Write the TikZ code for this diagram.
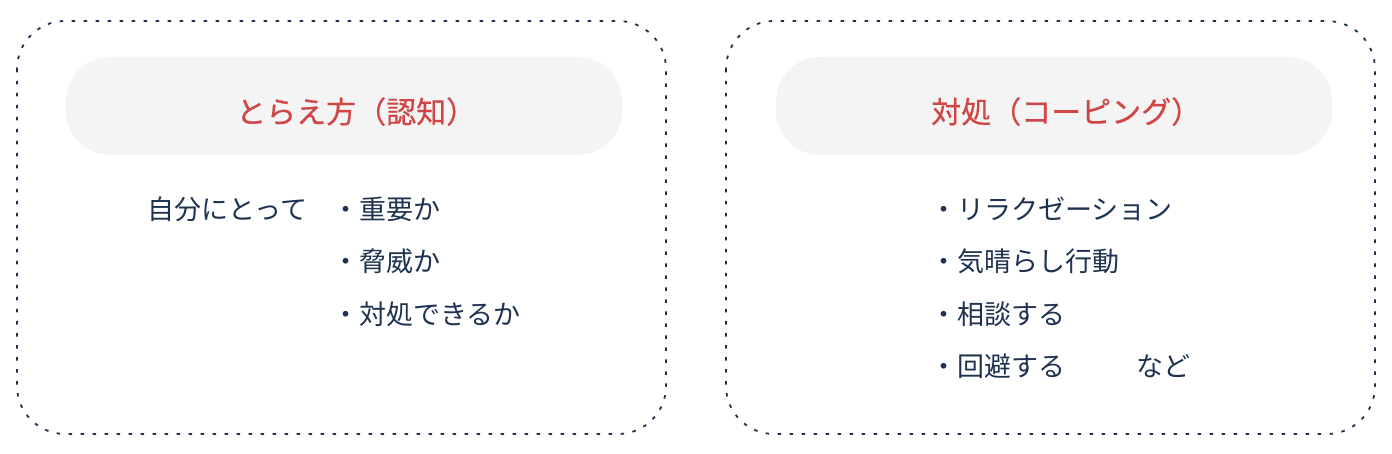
\documentclass[tikz,border=0pt]{standalone}
\usepackage{fontspec}
\setmainfont{Noto Sans CJK JP}
\newfontfamily\titlefont[FakeBold=0.5]{Noto Sans CJK JP}
\usetikzlibrary{positioning}

\definecolor{navy}{HTML}{1E3250}
\definecolor{titlered}{HTML}{D04545}
\definecolor{pillgray}{HTML}{F4F4F4}

\begin{document}
\begin{tikzpicture}[x=1pt, y=-1pt]

\tikzstyle{frame}=[draw=navy, line width=1.8pt, dash pattern=on 3.5pt off 8.5pt, rounded corners=48pt]
\tikzstyle{pill}=[fill=pillgray, rounded corners=44pt]
\tikzstyle{title}=[inner sep=0pt, anchor=base west, text=titlered, font=\titlefont\fontsize{30}{36}\selectfont]
\tikzstyle{item}=[inner sep=0pt, anchor=base west, text=navy, font=\fontsize{27}{32}\selectfont]

\useasboundingbox (0,0) rectangle (1392,454);

% outer boxes
\draw[frame] (17,21) rectangle (666,434);
\draw[frame] (726,21) rectangle (1375,434);

% headers
\fill[pill] (66,57) rectangle (622,155);
\fill[pill] (776,57) rectangle (1332,155);

\node[title] (cogT) at (236,123) {とらえ方（認知）};
\node[title] (copT) at (931,123) {対処（コーピング）};

% left box
\node[item] (forme) at (147,220) {自分にとって};
\node[item] (cog1) at (332,220) {・重要か};
\node[item] (cog2) at (332,272) {・脅威か};
\node[item] (cog3) at (332,324) {・対処できるか};

% right box
\node[item] (cop1) at (930,220) {・リラクゼーション};
\node[item] (cop2) at (930,272) {・気晴らし行動};
\node[item] (cop3) at (930,324) {・相談する};
\node[item] (cop4) at (930,376) {・回避する};
\node[item] (etc) at (1136,376) {など};

\end{tikzpicture}
\end{document}
